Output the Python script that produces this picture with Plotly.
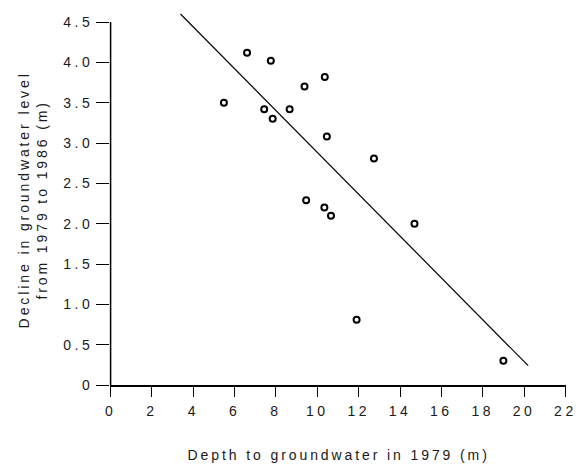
import plotly.graph_objects as go

depth_1979 = [6.6, 7.75, 10.36, 9.38, 5.48, 7.43, 8.66, 7.84, 10.46, 12.74, 9.46, 10.34, 10.66, 11.9, 14.7, 19.0]
decline_79_86 = [4.12, 4.02, 3.82, 3.70, 3.50, 3.42, 3.42, 3.30, 3.08, 2.81, 2.29, 2.20, 2.10, 0.81, 2.00, 0.30]

# Fitted line end points
fit_x = [3.38, 20.2]
fit_y = [4.60, 0.24]

x_ticks = [0, 2, 4, 6, 8, 10, 12, 14, 16, 18, 20, 22]
y_ticks = [0, 0.5, 1.0, 1.5, 2.0, 2.5, 3.0, 3.5, 4.0, 4.5]
y_tick_labels = ["0", "0.5", "1.0", "1.5", "2.0", "2.5", "3.0", "3.5", "4.0", "4.5"]

x_title = "Depth to groundwater in 1979 (m)"
y_title = "Decline in groundwater level<br>from 1979 to 1986 (m)"

FONT = "Liberation Sans, Arial, sans-serif"
TXT = "#1a1a1a"

fig = go.Figure()
fig.add_trace(go.Scatter(
    x=fit_x, y=fit_y, mode="lines",
    line=dict(color="black", width=1.2),
    showlegend=False, hoverinfo="skip"))
fig.add_trace(go.Scatter(
    x=depth_1979, y=decline_79_86, mode="markers",
    marker=dict(symbol="circle-open", size=6, color="black", line=dict(width=2)),
    showlegend=False, cliponaxis=False))

fig.update_layout(
    width=583, height=464,
    margin=dict(l=110, r=13, t=10, b=79),
    paper_bgcolor="white", plot_bgcolor="white",
    font=dict(family=FONT, size=14, color=TXT),
    xaxis=dict(
        range=[-0.03, 22.03], tickmode="array", tickvals=x_ticks,
        ticks="outside", ticklen=10, tickwidth=1, tickcolor="black",
        ticklabelstandoff=2,
        showline=True, linecolor="black", linewidth=1.5,
        showgrid=False, zeroline=False,
        tickfont=dict(family=FONT, size=14, color=TXT)),
    yaxis=dict(
        range=[0, 4.65], tickmode="array", tickvals=y_ticks, ticktext=y_tick_labels,
        ticks="outside", ticklen=13, tickwidth=1, tickcolor="black",
        showline=False, showgrid=False, zeroline=False,
        tickfont=dict(family=FONT, size=14, color=TXT)),
    shapes=[dict(type="line", xref="paper", yref="y", x0=0.0013, x1=0.0013, y0=0, y1=4.5,
                 line=dict(color="black", width=1.5))],
    annotations=[
        dict(text=x_title, xref="paper", yref="paper", x=0.5, y=-0.186,
             xanchor="center", yanchor="middle", showarrow=False,
             font=dict(family=FONT, size=14, color=TXT)),
        dict(text=y_title, xref="paper", yref="paper", x=-0.1696, y=0.493,
             xanchor="center", yanchor="middle", showarrow=False, textangle=-90,
             font=dict(family=FONT, size=14, color=TXT)),
    ],
)

post = """
var gd = document.getElementById('{plot_id}');
function ls(){
  gd.querySelectorAll('.xtick text,.ytick text').forEach(function(t){t.setAttribute('letter-spacing','3.5px');});
  gd.querySelectorAll('.annotation-text').forEach(function(t){t.setAttribute('letter-spacing','2.9px');});
}
ls();
if (gd.on) { gd.on('plotly_afterplot', ls); }
"""

fig.write_html("out.html", post_script=post)
